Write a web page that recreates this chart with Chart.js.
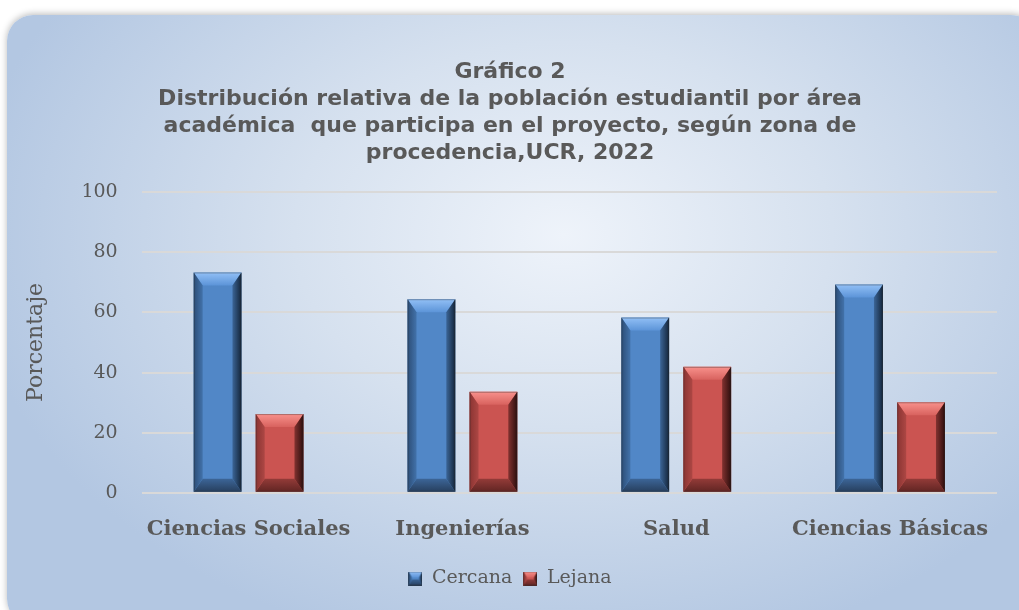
<!DOCTYPE html>
<html>
<head>
<meta charset="utf-8">
<script src="https://cdn.jsdelivr.net/npm/chart.js@4.4.1/dist/chart.umd.min.js"></script>
<style>
  html, body { margin: 0; padding: 0; background: #fff; overflow: hidden; }
  body { width: 1019px; height: 610px; position: relative; }
  #card {
    position: absolute; left: 7px; top: 15px; width: 1030px; height: 610px;
    border-radius: 26px;
    background: radial-gradient(ellipse 58% 70% at 54% 36%, #eef3fa 0%, #d6e1ef 45%, #b3c7e2 100%);
    box-shadow: 0 -1px 7px rgba(0,0,0,0.28);
  }
  #wrap { position: absolute; left: 7px; top: 15px; width: 1020px; height: 595px; }
</style>
</head>
<body>
<div id="card"></div>
<div id="wrap"><canvas id="grafico"></canvas></div>
<script>
const categories = ["Ciencias Sociales", "Ingenierías", "Salud", "Ciencias Básicas"];
const cercana = [73.3, 64.4, 58.3, 69.3];
const lejana = [26.2, 33.6, 41.9, 30.1];
const seriesNames = ["Cercana", "Lejana"];
const yMin = 0, yMax = 100, yStep = 20;

const titleLines = [
  "Gráfico 2",
  "Distribución relativa de la población estudiantil por área",
  "académica  que participa en el proyecto, según zona de",
  "procedencia,UCR, 2022"
];

// colores del bisel
const shades = {
  blue: { face: "#5187c7", top: ["#92c0f6", "#5c94d8"], right: ["#3b6597", "#14253a"], left: ["#2c4d76", "#4272aa"], bottom: ["#3c6597", "#273f5e"] },
  red:  { face: "#cb5451", top: ["#f8918c", "#d8625e"], right: ["#823230", "#2c0e0d"], left: ["#8a3432", "#ad4744"], bottom: ["#933b38", "#612523"] }
};

function bevel(ctx, L, R, T, B, s, bt, bs) {
  const w = R - L;
  const bx = Math.min(bs, w / 4);
  const by = Math.min(bt, (B - T) / 2);
  // arriba
  let g = ctx.createLinearGradient(0, T, 0, T + by);
  g.addColorStop(0, s.top[0]); g.addColorStop(1, s.top[1]);
  ctx.fillStyle = g;
  ctx.beginPath(); ctx.moveTo(L, T); ctx.lineTo(R, T); ctx.lineTo(R - bx, T + by); ctx.lineTo(L + bx, T + by); ctx.closePath(); ctx.fill();
  // abajo
  g = ctx.createLinearGradient(0, B - by, 0, B);
  g.addColorStop(0, s.bottom[0]); g.addColorStop(1, s.bottom[1]);
  ctx.fillStyle = g;
  ctx.beginPath(); ctx.moveTo(L, B); ctx.lineTo(R, B); ctx.lineTo(R - bx, B - by); ctx.lineTo(L + bx, B - by); ctx.closePath(); ctx.fill();
  // izquierda
  g = ctx.createLinearGradient(L, 0, L + bx, 0);
  g.addColorStop(0, s.left[0]); g.addColorStop(1, s.left[1]);
  ctx.fillStyle = g;
  ctx.beginPath(); ctx.moveTo(L, T); ctx.lineTo(L + bx, T + by); ctx.lineTo(L + bx, B - by); ctx.lineTo(L, B); ctx.closePath(); ctx.fill();
  // derecha
  g = ctx.createLinearGradient(R - bx, 0, R, 0);
  g.addColorStop(0, s.right[0]); g.addColorStop(1, s.right[1]);
  ctx.fillStyle = g;
  ctx.beginPath(); ctx.moveTo(R, T); ctx.lineTo(R - bx, T + by); ctx.lineTo(R - bx, B - by); ctx.lineTo(R, B); ctx.closePath(); ctx.fill();
  ctx.strokeStyle = "rgba(40,40,40,0.35)";
  ctx.lineWidth = 1;
  ctx.strokeRect(L + 0.5, T + 0.5, w - 1, B - T - 1);
}

function legendBox(s) {
  const c = document.createElement("canvas");
  c.width = 14; c.height = 14;
  const ctx = c.getContext("2d");
  ctx.fillStyle = s.face; ctx.fillRect(0, 0, 14, 14);
  bevel(ctx, 0, 14, 0, 14, s, 6, 6);
  return c;
}

const bevelPlugin = {
  id: "bevel",
  afterDatasetsDraw(chart) {
    const ctx = chart.ctx;
    chart.data.datasets.forEach((ds, i) => {
      const meta = chart.getDatasetMeta(i);
      meta.data.forEach(bar => {
        const p = bar.getProps(["x", "y", "base", "width"], true);
        ctx.save();
        bevel(ctx, p.x - p.width / 2, p.x + p.width / 2, Math.min(p.y, p.base), Math.max(p.y, p.base), ds.shade, 13, 9);
        ctx.restore();
      });
    });
  }
};

const serif = "'DejaVu Serif', serif";

new Chart(document.getElementById("grafico"), {
  type: "bar",
  data: {
    labels: categories,
    datasets: [
      { label: seriesNames[0], data: cercana, backgroundColor: shades.blue.face, shade: shades.blue, pointStyle: legendBox(shades.blue) },
      { label: seriesNames[1], data: lejana, backgroundColor: shades.red.face, shade: shades.red, pointStyle: legendBox(shades.red) }
    ]
  },
  options: {
    responsive: true,
    maintainAspectRatio: false,
    animation: false,
    categoryPercentage: 0.58,
    barPercentage: 0.77,
    layout: { padding: { top: 44, left: 16, right: 30, bottom: 12 } },
    plugins: {
      title: {
        display: true,
        text: titleLines,
        color: "#595959",
        font: { family: "'DejaVu Sans', sans-serif", size: 22, weight: "bold", lineHeight: 1.23 },
        padding: { top: 0, bottom: 25 }
      },
      legend: {
        position: "bottom",
        labels: {
          usePointStyle: true,
          color: "#595959",
          font: { family: serif, size: 19 },
          padding: 11,
          boxWidth: 14,
          boxHeight: 14
        }
      },
      tooltip: { enabled: false }
    },
    scales: {
      x: {
        grid: { display: false },
        border: { display: false },
        ticks: { color: "#595959", font: { family: serif, size: 21, weight: "bold" }, padding: 16 }
      },
      y: {
        min: yMin,
        max: yMax,
        ticks: { stepSize: yStep, color: "#595959", font: { family: serif, size: 19 }, padding: 24 },
        grid: { color: "#d9d9d9", lineWidth: 2, drawTicks: false },
        border: { display: false },
        title: { display: true, text: "Porcentaje", color: "#595959", font: { family: serif, size: 22 }, padding: { top: 0, bottom: 8 } }
      }
    }
  },
  plugins: [bevelPlugin]
});
</script>
</body>
</html>
